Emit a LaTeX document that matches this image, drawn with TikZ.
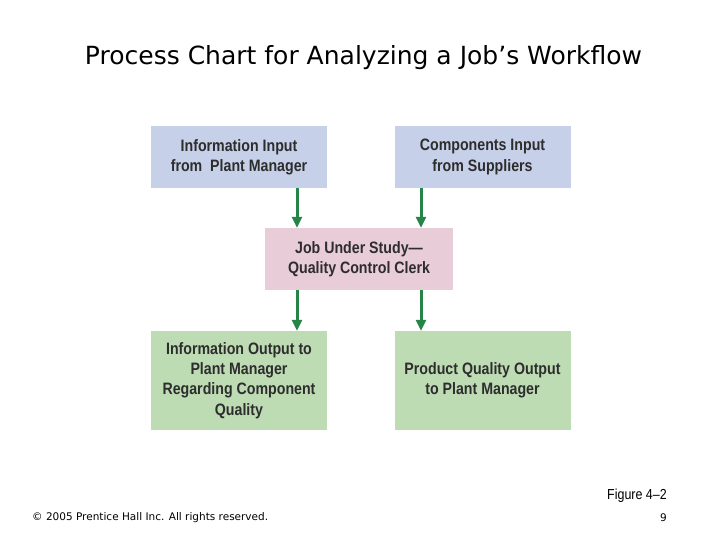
\documentclass[tikz,border=0pt]{standalone}
\usepackage{fontspec}
\setmainfont{Liberation Sans}
\newfontfamily\boxfont[FakeStretch=0.86]{Liberation Sans}
\newfontfamily\titlefont{DejaVu Sans}
\usetikzlibrary{positioning,arrows.meta}
\definecolor{inblue}{RGB}{198,208,232}
\definecolor{jobpink}{RGB}{232,204,216}
\definecolor{outgreen}{RGB}{190,220,180}
\definecolor{arrowgreen}{RGB}{38,132,72}
\definecolor{boxtext}{RGB}{45,45,45}
\tikzset{
  flowarrow/.style={-{Triangle[length=11pt,width=10pt]}, line width=3pt, draw=arrowgreen},
  inbox/.style={fill=inblue, minimum width=176pt, minimum height=62pt, align=center, text=boxtext, font=\boxfont\bfseries\fontsize{16.5}{20.3}\selectfont},
  jobbox/.style={inbox, fill=jobpink, minimum width=188pt},
  outbox/.style={inbox, fill=outgreen, minimum height=99pt},
  footer/.style={inner sep=0pt, font=\titlefont\fontsize{10.5}{12}\selectfont}
}

\begin{document}
\begin{tikzpicture}[x=1pt, y=-1pt]
  \useasboundingbox[fill=white] (0,0) rectangle (720,540);
  \node[font=\titlefont\fontsize{25}{30}\selectfont] (title) at (363.5,58) {Process Chart for Analyzing a Job’s Workflow};

  \node[inbox] (infoin) at (239,157) {Information Input\\from\ \ Plant Manager};
  \node[inbox] (compin) at (482.5,157) {Components Input\\from Suppliers};
  \node[jobbox] (job) at (359,259) {Job Under Study—\\Quality Control Clerk};
  \node[outbox] (infoout) at (239,380.5) {Information Output to\\Plant Manager\\Regarding Component\\Quality};
  \node[outbox] (prodout) at (482.5,380.5) {Product Quality Output\\to Plant Manager};

  \coordinate (lx) at (297,0);
  \coordinate (rx) at (421,0);
  \draw[flowarrow] (infoin.south -| lx) -- (job.north -| lx);
  \draw[flowarrow] (compin.south -| rx) -- (job.north -| rx);
  \draw[flowarrow] (job.south -| lx) -- (infoout.north -| lx);
  \draw[flowarrow] (job.south -| rx) -- (prodout.north -| rx);

  \node[footer, anchor=east, font=\boxfont\fontsize{14.5}{16}\selectfont] (fig) at (667,496) {Figure 4–2};
  \node[footer, anchor=west] (copy) at (32,518) {© 2005 Prentice Hall Inc. All rights reserved.};
  \node[footer, anchor=east] (page) at (667,518) {9};
\end{tikzpicture}
\end{document}
